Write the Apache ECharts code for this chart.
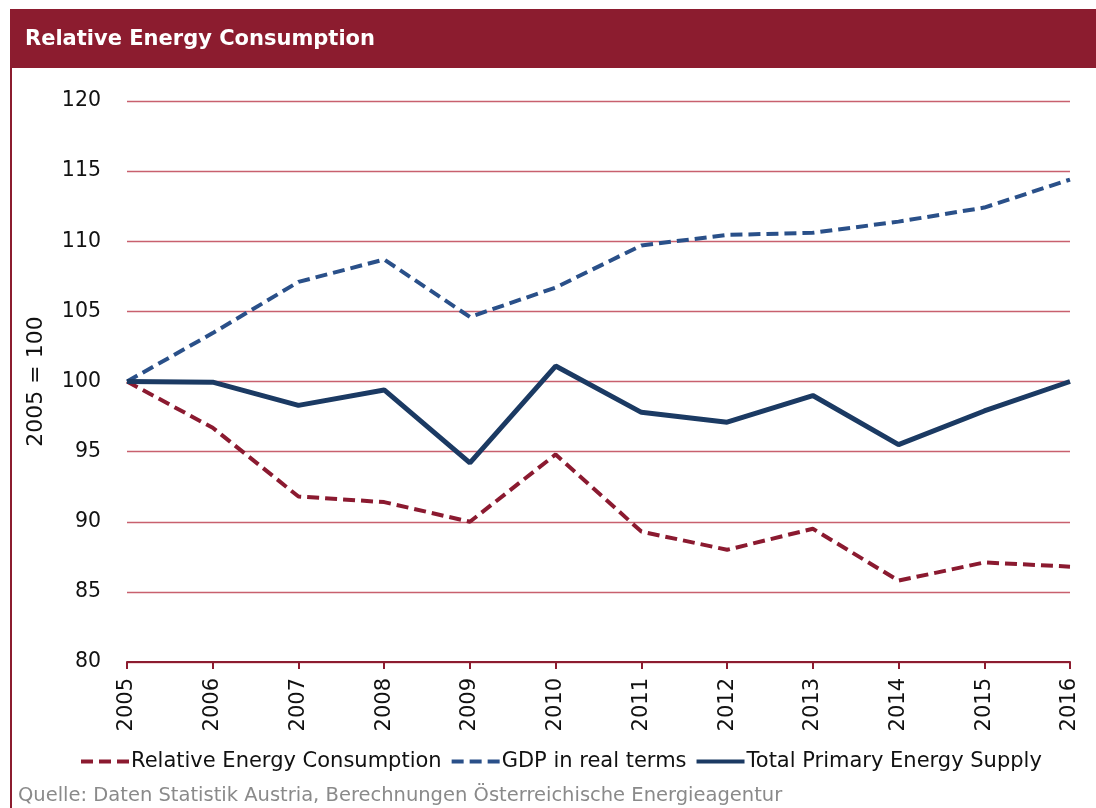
<!DOCTYPE html>
<html>
<head>
<meta charset="utf-8">
<script src="https://cdn.jsdelivr.net/npm/echarts@6/dist/echarts.min.js"></script>
<style>
  html, body { margin: 0; padding: 0; background: #fff; }
  #chart { width: 1096px; height: 808px; }
</style>
</head>
<body>
<div id="chart"></div>
<script>
const years = ["2005", "2006", "2007", "2008", "2009", "2010", "2011", "2012", "2013", "2014", "2015", "2016"];
const relativeEnergy = [100, 96.7, 91.8, 91.4, 90.0, 94.8, 89.3, 88.0, 89.5, 85.8, 87.1, 86.8];
const gdpReal = [100, 103.45, 107.1, 108.7, 104.6, 106.7, 109.7, 110.45, 110.6, 111.4, 112.4, 114.4];
const primarySupply = [100, 99.95, 98.3, 99.4, 94.2, 101.1, 97.8, 97.1, 99.0, 95.5, 97.9, 100.0];

const red = "#8c1c2f";
const gridRed = "rgb(200, 96, 110)";
const font = "DejaVu Sans, Verdana, sans-serif";

const chart = echarts.init(document.getElementById("chart"));

const option = {
    animation: false,
    graphic: [
        { type: "rect", left: 10, top: 9, shape: { width: 1086, height: 59 }, style: { fill: red }, z: -1 },
        { type: "rect", left: 10, top: 68, shape: { width: 2, height: 740 }, style: { fill: red }, z: -1 },
        {
            type: "text", left: 25, top: 29,
            style: { text: "Relative Energy Consumption", fill: "#fff", font: "bold 21px " + font }
        },
        {
            type: "text", left: 18, top: 786,
            style: { text: "Quelle: Daten Statistik Austria, Berechnungen Österreichische Energieagentur", fill: "#8a8a8a", font: "19.5px " + font }
        }
    ],
    legend: {
        bottom: 31,
        left: 74,
        itemWidth: 48,
        itemHeight: 14,
        itemGap: 8,
        itemStyle: { opacity: 0 },
        lineStyle: { width: 4 },
        textStyle: { fontFamily: font, fontSize: 21, color: "#111", padding: [0, 0, 0, -3] },
        data: ["Relative Energy Consumption", "GDP in real terms", "Total Primary Energy Supply"]
    },
    grid: { left: 127, right: 26, top: 101, bottom: 146 },
    xAxis: {
        type: "category",
        data: years,
        boundaryGap: false,
        axisLine: { lineStyle: { color: red, width: 2 } },
        axisTick: { alignWithLabel: true, length: 7, lineStyle: { color: red, width: 2 } },
        axisLabel: { rotate: 90, fontFamily: font, fontSize: 21, color: "#111", margin: 16 },
        splitLine: { show: false }
    },
    yAxis: {
        type: "value",
        min: 80,
        max: 120,
        interval: 5,
        name: "2005 = 100",
        nameLocation: "middle",
        nameGap: 80,
        nameTextStyle: { fontFamily: font, fontSize: 22, color: "#111" },
        axisLine: { show: false },
        axisTick: { show: false },
        axisLabel: { fontFamily: font, fontSize: 20.5, color: "#111", margin: 26 },
        splitLine: { show: true, lineStyle: { color: [gridRed], width: 1.3, opacity: 1 } }
    },
    series: [
        {
            name: "Relative Energy Consumption",
            type: "line",
            data: relativeEnergy,
            symbol: "none",
            z: 3,
            lineStyle: { color: "#8b1a30", width: 4, type: [12, 6] },
            itemStyle: { color: "#8b1a30" }
        },
        {
            name: "GDP in real terms",
            type: "line",
            data: gdpReal,
            symbol: "none",
            z: 3,
            lineStyle: { color: "#2a5089", width: 4, type: [12, 6] },
            itemStyle: { color: "#2a5089" }
        },
        {
            name: "Total Primary Energy Supply",
            type: "line",
            data: primarySupply,
            symbol: "none",
            z: 4,
            lineStyle: { color: "#1b3a63", width: 5 },
            itemStyle: { color: "#1b3a63" }
        }
    ]
};

chart.setOption(option);
</script>
</body>
</html>
